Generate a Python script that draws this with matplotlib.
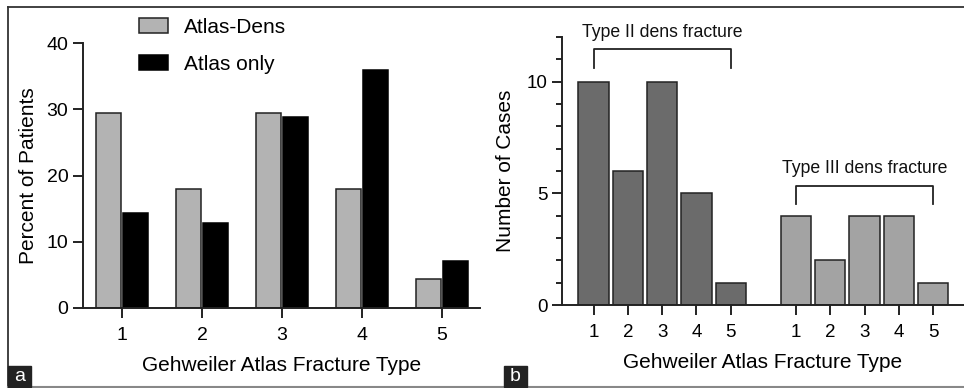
import matplotlib
matplotlib.use("Agg")
import matplotlib.pyplot as plt
import numpy as np
from matplotlib.lines import Line2D

plt.rcParams["font.family"] = ["Liberation Sans", "DejaVu Sans"]

# panel a: percent of patients per Gehweiler type
types = [1, 2, 3, 4, 5]
atlas_dens = [29.5, 18.0, 29.5, 18.0, 4.4]
atlas_only = [14.3, 12.9, 28.8, 36.0, 7.1]

# panel b: number of cases, grouped by dens fracture type
type2_cases = [10, 6, 10, 5, 1]
type3_cases = [4, 2, 4, 4, 1]

W, H = 964, 388
fig = plt.figure(figsize=(W / 100, H / 100), dpi=100)


def px_axes(x0, y_top, x1, y_bot):
    return fig.add_axes([x0 / W, 1 - y_bot / H, (x1 - x0) / W, (y_bot - y_top) / H])


def style_axes(ax, size):
    for s in ("top", "right"):
        ax.spines[s].set_visible(False)
    for s in ("left", "bottom"):
        ax.spines[s].set_linewidth(1.4)
        ax.spines[s].set_color("#222222")
    ax.tick_params(axis="both", which="major", length=7, width=1.4,
                   color="#222222", labelsize=size, pad=3.5)
    ax.tick_params(axis="x", which="major", pad=7)
    ax.tick_params(axis="both", which="minor", length=4, width=1.4,
                   color="#222222")


# ---- panel a ----
axa = px_axes(83, 43, 480, 308)
x = np.array(types, dtype=float)
off, bw = 0.17, 0.31
axa.bar(x - off, atlas_dens, bw, color="#b3b3b3", edgecolor="#222222",
        linewidth=1.1, label="Atlas-Dens")
axa.bar(x + off, atlas_only, bw, color="#000000", edgecolor="#000000",
        linewidth=1.1, label="Atlas only")
axa.set_xlim(0.51, 5.475)
axa.set_ylim(0, 40)
axa.set_yticks([0, 10, 20, 30, 40])
axa.set_xticks(types)
style_axes(axa, 14)
axa.set_ylabel("Percent of Patients", fontsize=15, labelpad=6)
axa.set_xlabel("Gehweiler Atlas Fracture Type", fontsize=15, labelpad=8)
axa.legend(loc="upper left", bbox_to_anchor=(139 / W, 1 - 18 / H),
           bbox_transform=fig.transFigure, frameon=False, fontsize=15,
           handlelength=1.4, handleheight=0.75, handletextpad=0.75,
           labelspacing=0.85, borderaxespad=0, borderpad=0)

# ---- panel b ----
axb = px_axes(562, 37, 964, 305)
pos2 = np.array(types, dtype=float)
pos3 = pos2 + 5.9
bwb = 0.88
axb.bar(pos2, type2_cases, bwb, color="#6b6b6b", edgecolor="#222222", linewidth=1.1)
axb.bar(pos3, type3_cases, bwb, color="#a3a3a3", edgecolor="#222222", linewidth=1.1)
axb.set_xlim(0.08, 11.8)
axb.set_ylim(0, 12)
axb.set_yticks([0, 5, 10])
axb.set_yticks(range(0, 13), minor=True)
axb.set_xticks(np.concatenate([pos2, pos3]))
axb.set_xticklabels([str(t) for t in types] * 2)
style_axes(axb, 13.5)
axb.set_ylabel("Number of Cases", fontsize=15, labelpad=8)
axb.set_xlabel("Gehweiler Atlas Fracture Type", fontsize=15, labelpad=8)


def bracket(ax, x0, x1, y, drop, text, ty):
    ax.plot([x0, x0, x1, x1], [y - drop, y, y, y - drop], color="#222222",
            lw=1.3, clip_on=False)
    ax.text((x0 + x1) / 2, ty, text, ha="center", va="center", fontsize=12.7,
            color="#111111", clip_on=False)


bracket(axb, pos2[0], pos2[-1], 11.45, 0.82, "Type II dens fracture", 12.2)
bracket(axb, pos3[0], pos3[-1], 5.31, 0.78, "Type III dens fracture", 6.1)

# ---- frame and panel tags ----
fig.add_artist(Line2D([8 / W, 1], [1 - 6.5 / H, 1 - 6.5 / H], color="#333333", lw=1.3))
fig.add_artist(Line2D([8 / W, 8 / W], [1 - 6.5 / H, 1 - 387 / H], color="#333333", lw=1.3))
fig.add_artist(Line2D([8 / W, 1], [1 - 387 / H, 1 - 387 / H], color="#888888", lw=1.5))

for tag, x0 in (("a", 8), ("b", 504)):
    fig.patches.append(plt.Rectangle((x0 / W, 1 - 387 / H), 23 / W, 21 / H,
                                     transform=fig.transFigure,
                                     color="#222222", zorder=5))
    fig.text((x0 + 11.5) / W, 1 - 376.5 / H, tag, color="white", fontsize=14,
             ha="center", va="center", zorder=6)

fig.savefig("out.png", dpi=100)
